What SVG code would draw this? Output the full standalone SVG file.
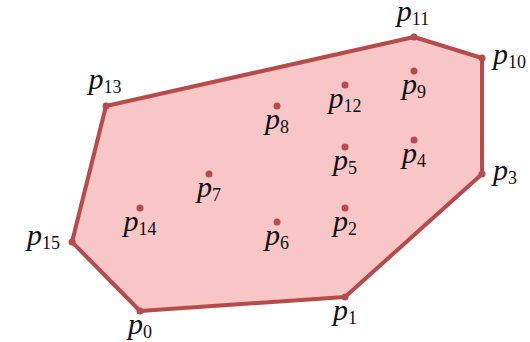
<svg xmlns="http://www.w3.org/2000/svg" width="530" height="342" viewBox="0 0 530 342">
<defs>
<style>
.hull{fill:#f8c6c7;stroke:#b84a4a;stroke-width:4;stroke-linejoin:round}
.dot{fill:#b84a4a}
</style>
</defs>
<rect width="530" height="342" fill="#fff"/>
<g id="connectors">
<polygon class="hull" points="140,311 345,297 482,174 482,58 414,37 106,106 72,242"/>
</g>
<g font-family="Liberation Serif, Times New Roman, serif" fill="#111">
<g id="p0"><circle class="dot" cx="140" cy="311" r="3.5"/><text text-anchor="middle" x="140" y="334"><tspan font-style="italic" font-size="30">p</tspan><tspan font-size="18" dy="4">0</tspan></text></g>
<g id="p1"><circle class="dot" cx="345" cy="297" r="3.5"/><text text-anchor="middle" x="345" y="320"><tspan font-style="italic" font-size="30">p</tspan><tspan font-size="18" dy="4">1</tspan></text></g>
<g id="p2"><circle class="dot" cx="345" cy="208" r="3.5"/><text text-anchor="middle" x="345" y="231"><tspan font-style="italic" font-size="30">p</tspan><tspan font-size="18" dy="4">2</tspan></text></g>
<g id="p3"><circle class="dot" cx="482" cy="174" r="3.5"/><text x="493" y="180"><tspan font-style="italic" font-size="30">p</tspan><tspan font-size="18" dy="4">3</tspan></text></g>
<g id="p4"><circle class="dot" cx="414" cy="140" r="3.5"/><text text-anchor="middle" x="414" y="163"><tspan font-style="italic" font-size="30">p</tspan><tspan font-size="18" dy="4">4</tspan></text></g>
<g id="p5"><circle class="dot" cx="345" cy="147" r="3.5"/><text text-anchor="middle" x="345" y="170"><tspan font-style="italic" font-size="30">p</tspan><tspan font-size="18" dy="4">5</tspan></text></g>
<g id="p6"><circle class="dot" cx="277" cy="222" r="3.5"/><text text-anchor="middle" x="277" y="245"><tspan font-style="italic" font-size="30">p</tspan><tspan font-size="18" dy="4">6</tspan></text></g>
<g id="p7"><circle class="dot" cx="209" cy="174" r="3.5"/><text text-anchor="middle" x="209" y="197"><tspan font-style="italic" font-size="30">p</tspan><tspan font-size="18" dy="4">7</tspan></text></g>
<g id="p8"><circle class="dot" cx="277" cy="106" r="3.5"/><text text-anchor="middle" x="277" y="129"><tspan font-style="italic" font-size="30">p</tspan><tspan font-size="18" dy="4">8</tspan></text></g>
<g id="p9"><circle class="dot" cx="414" cy="71" r="3.5"/><text text-anchor="middle" x="414" y="94"><tspan font-style="italic" font-size="30">p</tspan><tspan font-size="18" dy="4">9</tspan></text></g>
<g id="p10"><circle class="dot" cx="482" cy="58" r="3.5"/><text x="493" y="64"><tspan font-style="italic" font-size="30">p</tspan><tspan font-size="18" dy="4">10</tspan></text></g>
<g id="p11"><circle class="dot" cx="414" cy="37" r="3.5"/><text text-anchor="middle" x="413" y="21"><tspan font-style="italic" font-size="30">p</tspan><tspan font-size="18" dy="4">11</tspan></text></g>
<g id="p12"><circle class="dot" cx="345" cy="85" r="3.5"/><text text-anchor="middle" x="345" y="108"><tspan font-style="italic" font-size="30">p</tspan><tspan font-size="18" dy="4">12</tspan></text></g>
<g id="p13"><circle class="dot" cx="106" cy="106" r="3.5"/><text text-anchor="middle" x="105" y="89"><tspan font-style="italic" font-size="30">p</tspan><tspan font-size="18" dy="4">13</tspan></text></g>
<g id="p14"><circle class="dot" cx="140" cy="208" r="3.5"/><text text-anchor="middle" x="140" y="231"><tspan font-style="italic" font-size="30">p</tspan><tspan font-size="18" dy="4">14</tspan></text></g>
<g id="p15"><circle class="dot" cx="72" cy="242" r="3.5"/><text text-anchor="end" x="60" y="245"><tspan font-style="italic" font-size="30">p</tspan><tspan font-size="18" dy="4">15</tspan></text></g>
</g>
</svg>
